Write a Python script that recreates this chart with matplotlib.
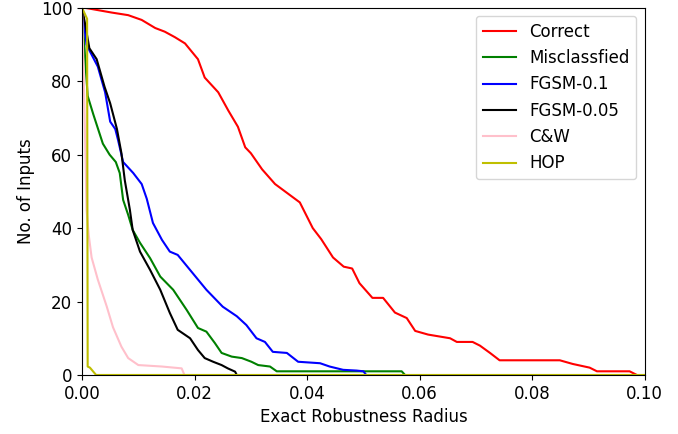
import matplotlib
matplotlib.use('Agg')
import matplotlib.pyplot as plt

# radius (x) / number of inputs (y)
correct_x = [0.0, 0.0005, 0.0053, 0.0082, 0.0106, 0.013, 0.0147, 0.0165, 0.0183, 0.0206,
             0.0218, 0.0242, 0.026, 0.0277, 0.029, 0.030, 0.032, 0.0343, 0.0387, 0.041,
             0.0425, 0.0446, 0.0465, 0.048, 0.0493, 0.0516, 0.0535, 0.0556, 0.0577, 0.0592,
             0.0615, 0.0654, 0.0666, 0.0694, 0.0707, 0.0725, 0.0742, 0.0849, 0.0872, 0.0902,
             0.0915, 0.0973, 0.0986]
correct_y = [100, 100, 98.7, 98, 96.7, 94.5, 93.5, 92, 90.3, 86,
             81, 77, 72, 67.6, 62, 60.4, 56, 52, 47, 40,
             37, 32, 29.5, 29, 25, 21, 21, 17, 15.5, 12,
             11, 10, 9, 9, 8, 6, 4, 4, 3, 2,
             1, 1, 0]

miscls_x = [0.0, 0.0006, 0.001, 0.002, 0.0037, 0.0049, 0.006, 0.0067, 0.0073, 0.0082,
            0.009, 0.0103, 0.0121, 0.0139, 0.0162, 0.0186, 0.0206, 0.0221, 0.0236, 0.0248,
            0.0266, 0.0284, 0.0301, 0.0313, 0.0334, 0.0346, 0.0568, 0.0574]
miscls_y = [100, 85, 76, 71, 63, 60, 58, 55, 47.7, 43.6,
            39.5, 36, 31.8, 26.8, 23.2, 17.7, 12.8, 11.8, 8.7, 6,
            5, 4.6, 3.6, 2.7, 2.3, 1, 1, 0]

fgsm1_x = [0.0, 0.0008, 0.0011, 0.0028, 0.0041, 0.005, 0.0059, 0.0064, 0.0073, 0.0091,
           0.0106, 0.0115, 0.0126, 0.0142, 0.0156, 0.017, 0.0192, 0.0221, 0.025, 0.0275,
           0.0292, 0.031, 0.0325, 0.0339, 0.0364, 0.0384, 0.0423, 0.044, 0.0464, 0.0488,
           0.050, 0.0505]
fgsm1_y = [100, 90, 89, 84, 77, 69, 67, 64, 58, 55,
           52, 48, 41.4, 36.8, 33.6, 32.7, 28.6, 23.2, 18.6, 16,
           13.6, 10, 9, 6.3, 6, 3.6, 3.2, 2.3, 1.4, 1.2,
           1, 0]

fgsm05_x = [0.0, 0.0005, 0.0013, 0.0026, 0.004, 0.005, 0.0062, 0.007, 0.0076, 0.0085,
            0.009, 0.0103, 0.0121, 0.0139, 0.0156, 0.017, 0.0192, 0.0206, 0.0218, 0.0233,
            0.0248, 0.0259, 0.0272, 0.0275]
fgsm05_y = [100, 96, 89, 86, 78.5, 74, 67, 60.4, 53, 45,
            39.5, 33.6, 28.6, 23.2, 16.9, 12.3, 10, 6.8, 4.6, 3.6,
            2.7, 1.8, 0.9, 0]

cw_x = [0.0, 0.0004, 0.0008, 0.0012, 0.0017, 0.0028, 0.0044, 0.0055, 0.007, 0.0082,
        0.01, 0.0142, 0.0177, 0.0182]
cw_y = [100, 75, 45, 38, 32, 26, 18.6, 13, 7.7, 4.6,
        2.7, 2.3, 1.8, 0]

hop_x = [0.0, 0.0009, 0.001, 0.0014, 0.0025, 0.1]
hop_y = [100, 97, 2.3, 2, 0, 0]

plt.figure(figsize=(6.78, 4.34), dpi=100)
plt.subplots_adjust(left=0.121, right=0.951, top=0.982, bottom=0.136)

plt.plot(correct_x, correct_y, 'r', label='Correct')
plt.plot(miscls_x, miscls_y, 'g', label='Misclassfied')
plt.plot(fgsm1_x, fgsm1_y, 'b', label='FGSM-0.1')
plt.plot(fgsm05_x, fgsm05_y, 'k', label='FGSM-0.05')
plt.plot(cw_x, cw_y, color='pink', label='C&W')
plt.plot(hop_x, hop_y, 'y', label='HOP')

plt.xlim(0, 0.10)
plt.ylim(0, 100)
plt.xticks([0.0, 0.02, 0.04, 0.06, 0.08, 0.10], fontsize=12)
plt.yticks([0, 20, 40, 60, 80, 100], fontsize=12)
plt.xlabel('Exact Robustness Radius', fontsize=12)
plt.ylabel('No. of Inputs', fontsize=12)
plt.legend(loc='upper right', fontsize=12)
plt.savefig('out.png')
